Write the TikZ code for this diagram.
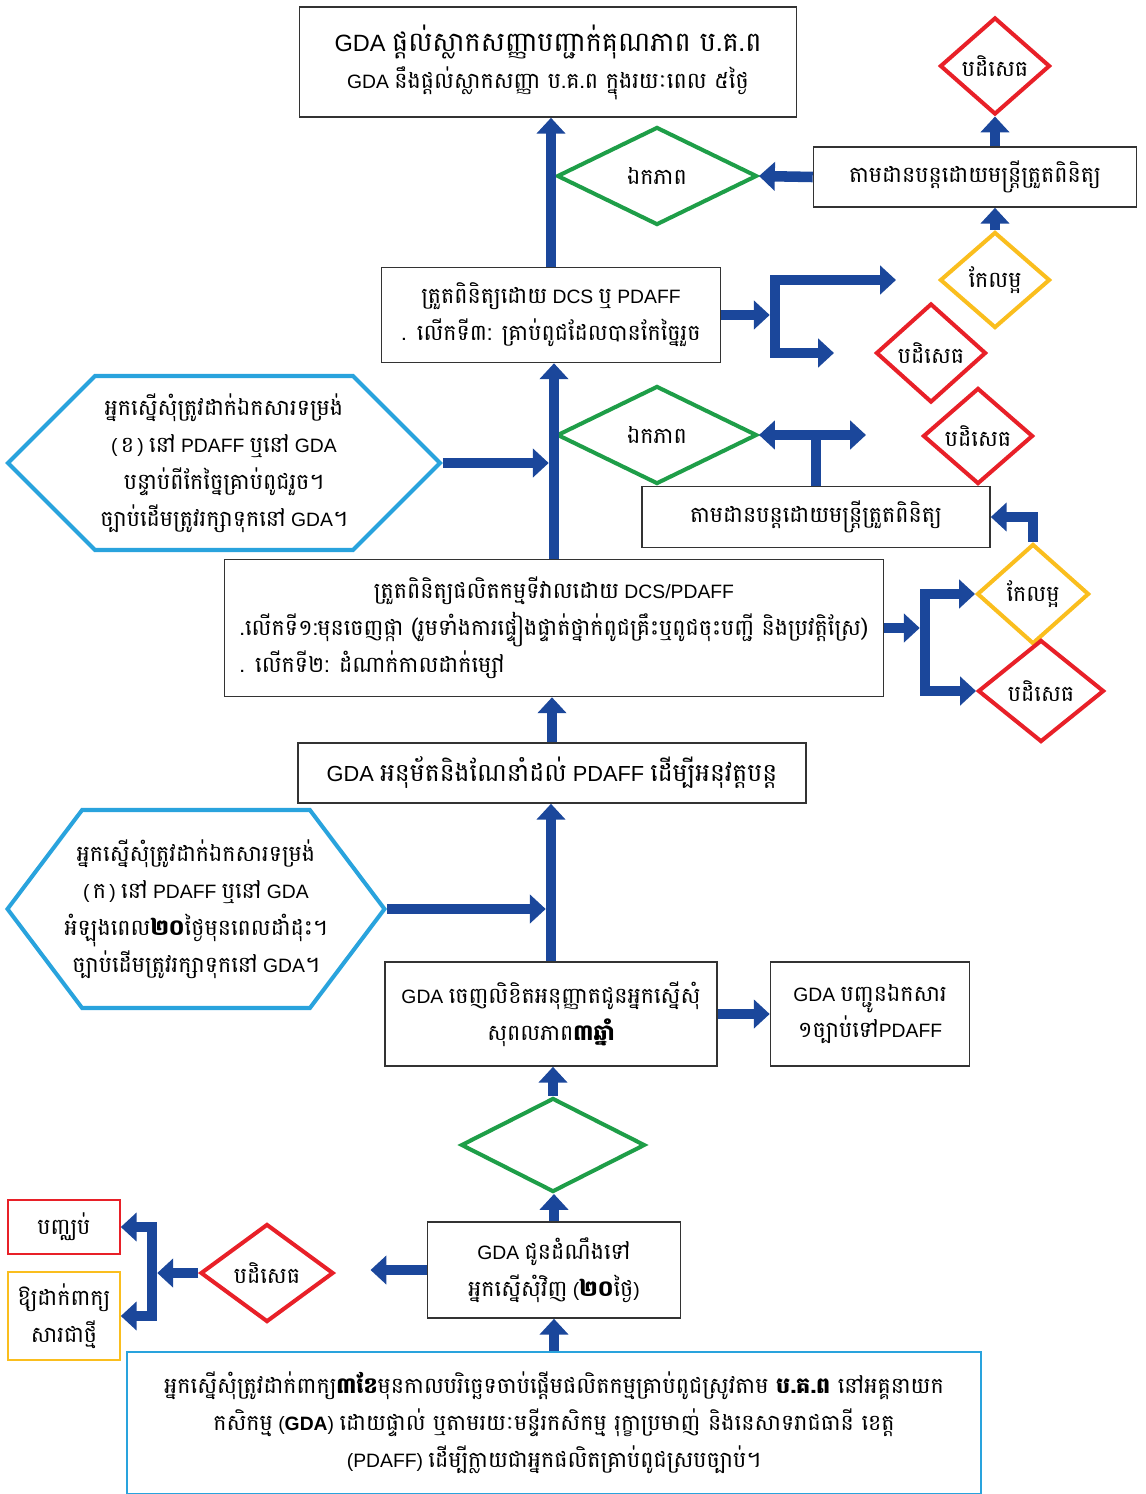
\documentclass[tikz,border=0pt]{standalone}
\usepackage{fontspec}
\setmainfont{Liberation Sans}
\newfontfamily\khfont[Script=Khmer, Scale=1.15]{Battambang}
\newcommand{\kh}[1]{{\khfont #1}}
\usetikzlibrary{arrows.meta,shapes.geometric,shapes.symbols}
\definecolor{flowblue}{RGB}{27,71,155}
\definecolor{okgreen}{RGB}{30,158,72}
\definecolor{nored}{RGB}{232,32,40}
\definecolor{fixyellow}{RGB}{250,190,30}
\definecolor{hexblue}{RGB}{41,163,221}
\tikzstyle{flowchart}=[%
	every node/.style={
		align=center, inner sep=2pt, font=\fontsize{11}{21}\selectfont
	}%
]
\tikzstyle{box}=[rectangle, draw=black!80, line width=0.9pt]
\tikzstyle{agree}=[diamond, draw=okgreen, line width=2.3pt, inner sep=0pt]
\tikzstyle{reject}=[diamond, draw=nored, line width=2.3pt, inner sep=0pt]
\tikzstyle{improve}=[diamond, draw=fixyellow, line width=2.3pt, inner sep=0pt]
\tikzstyle{hexa}=[signal, signal to=east and west, draw=hexblue, line width=2.3pt, inner sep=0pt]
\tikzstyle{flow}=[draw=flowblue, line width=6pt, line join=miter, -{Triangle[width=16pt,length=9pt]}]
\tikzstyle{dflow}=[flow, {Triangle[width=16pt,length=9pt]}-{Triangle[width=16pt,length=9pt]}]
\tikzstyle{bar}=[draw=flowblue, line width=6pt]

\begin{document}
\begin{tikzpicture}[x=0.2mm, y=-0.2mm, flowchart]
	\useasboundingbox (0,0) rectangle (1146,1494);

	\node[box, minimum width=99.4mm, minimum height=22mm] (cert) at (548,62)
		{{\fontsize{13.4}{24}\selectfont GDA \kh{ផ្តល់ស្លាកសញ្ញាបញ្ជាក់គុណភាព ប.គ.ព}}\\
		GDA \kh{នឹងផ្តល់ស្លាកសញ្ញា ប.គ.ព ក្នុងរយៈពេល ៥ថ្ងៃ}};
	\node[agree, minimum width=40mm, minimum height=19.6mm] (ok1) at (657,176) {\kh{ឯកភាព}};
	\node[box, minimum width=64.6mm, minimum height=12mm] (follow1) at (975,177) {\kh{តាមដានបន្តដោយមន្ត្រីត្រួតពិនិត្យ}};
	\node[reject, minimum width=22mm, minimum height=19.4mm] (rej1) at (995,66) {\kh{បដិសេធ}};
	\node[improve, minimum width=22mm, minimum height=19.2mm] (fix1) at (995,280) {\kh{កែលម្អ}};

	\node[box, minimum width=67.8mm, minimum height=19mm] (chk3) at (551,315)
		{\kh{ត្រួតពិនិត្យដោយ} DCS \kh{ឬ} PDAFF\\
		\kh{. លើកទី៣: គ្រាប់ពូជដែលបានកែច្នៃរួច}};
	\node[reject, minimum width=22mm, minimum height=19.8mm] (rej2) at (931,353) {\kh{បដិសេធ}};
	\node[agree, minimum width=40mm, minimum height=19.6mm] (ok2) at (657,435) {\kh{ឯកភាព}};
	\node[reject, minimum width=22mm, minimum height=19.2mm] (rej3) at (978,436) {\kh{បដិសេធ}};
	\node[box, minimum width=69.6mm, minimum height=12.2mm] (follow2) at (816,517) {\kh{តាមដានបន្តដោយមន្ត្រីត្រួតពិនិត្យ}};

	\node[hexa, signal pointer angle=90, minimum width=86.4mm, minimum height=34.8mm] (hexB) at (224,463)
		{\kh{អ្នកស្នើសុំត្រូវដាក់ឯកសារទម្រង់}\\
		(\,\kh{ខ}\,) \kh{នៅ} PDAFF \kh{ឬនៅ} GDA\\
		\kh{បន្ទាប់ពីកែច្នៃគ្រាប់ពូជរួច។}\\
		\kh{ច្បាប់ដើមត្រូវរក្សាទុកនៅ} GDA\kh{។}};

	\node[box, minimum width=131.8mm, minimum height=27.4mm] (field) at (554,628)
		{\begin{tabular}{@{}l@{}}
		\multicolumn{1}{@{}c@{}}{\kh{ត្រួតពិនិត្យផលិតកម្មទីវាលដោយ} DCS/PDAFF}\\
		\kh{.លើកទី១:មុនចេញផ្កា (រួមទាំងការផ្ទៀងផ្ទាត់ថ្នាក់ពូជគ្រឹះឬពូជចុះបញ្ជី និងប្រវត្តិស្រែ)}\\
		\kh{. លើកទី២: ដំណាក់កាលដាក់ម្សៅ}
		\end{tabular}};
	\node[improve, minimum width=22.4mm, minimum height=20mm] (fix2) at (1033,594) {\kh{កែលម្អ}};
	\node[reject, minimum width=25.2mm, minimum height=20.4mm] (rej4) at (1041,691) {\kh{បដិសេធ}};

	\node[box, minimum width=101.6mm, minimum height=12mm, font=\fontsize{12.4}{21}\selectfont] (approve) at (552,773)
		{GDA \kh{អនុម័តនិងណែនាំដល់} PDAFF \kh{ដើម្បីអនុវត្តបន្ត}};

	\node[hexa, signal pointer angle=106, inner xsep=-5mm, minimum width=75.4mm, minimum height=39.6mm] (hexA) at (196,909)
		{\kh{អ្នកស្នើសុំត្រូវដាក់ឯកសារទម្រង់}\\
		(\,\kh{ក}\,) \kh{នៅ} PDAFF \kh{ឬនៅ} GDA\\
		\kh{អំឡុងពេល\textbf{២០}ថ្ងៃមុនពេលដាំដុះ។}\\
		\kh{ច្បាប់ដើមត្រូវរក្សាទុកនៅ} GDA\kh{។}};

	\node[box, minimum width=66.4mm, minimum height=20.8mm] (permit) at (551,1014)
		{GDA \kh{ចេញលិខិតអនុញ្ញាតជូនអ្នកស្នើសុំ}\\
		\kh{សុពលភាព\textbf{៣ឆ្នាំ}}};
	\node[box, minimum width=39.8mm, minimum height=20.8mm] (send) at (870,1014)
		{GDA \kh{បញ្ជូនឯកសារ}\\
		\kh{១ច្បាប់ទៅ}PDAFF};
	\node[agree, minimum width=36.8mm, minimum height=18.8mm] (ok3) at (553,1145) {};

	\node[box, minimum width=50.6mm, minimum height=19.2mm] (notify) at (554,1270)
		{GDA \kh{ជូនដំណឹងទៅ}\\
		\kh{អ្នកស្នើសុំវិញ} (\kh{\textbf{២០}ថ្ងៃ})};
	\node[reject, minimum width=26.6mm, minimum height=19.6mm] (rej5) at (267,1273) {\kh{បដិសេធ}};
	\node[box, draw=nored, minimum width=22.4mm, minimum height=10.8mm] (stop) at (64,1227) {\kh{បញ្ឈប់}};
	\node[box, draw=fixyellow, minimum width=22.4mm, minimum height=17.6mm] (again) at (64,1316)
		{\kh{ឱ្យដាក់ពាក្យ}\\
		\kh{សារជាថ្មី}};

	\node[box, draw=hexblue, minimum width=170.8mm, minimum height=28.4mm] (apply) at (554,1423)
		{\kh{អ្នកស្នើសុំត្រូវដាក់ពាក្យ\textbf{៣ខែ}មុនកាលបរិច្ឆេទចាប់ផ្តើមផលិតកម្មគ្រាប់ពូជស្រូវតាម \textbf{ប.គ.ព} នៅអគ្គនាយក}\\
		\kh{កសិកម្ម} (\textbf{GDA}) \kh{ដោយផ្ទាល់ ឬតាមរយៈមន្ទីរកសិកម្ម រុក្ខាប្រមាញ់ និងនេសាទរាជធានី ខេត្ត}\\
		(PDAFF) \kh{ដើម្បីក្លាយជាអ្នកផលិតគ្រាប់ពូជស្របច្បាប់។}};

	\coordinate (fork2) at (775,315);
	\coordinate (fork3) at (925,628);
	\coordinate (fork5) at (152,1273);

	\draw[flow] (chk3.north) -- (chk3.north |- cert.south);
	\draw[flow] (follow1.west) -- (ok1.east);
	\draw[flow] (rej1.south |- follow1.north) -- (rej1.south);
	\draw[flow] (fix1.north) -- (fix1.north |- follow1.south);
	\draw[flow, shorten >=3pt] (chk3.east) -- (fork2);
	\draw[dflow, shorten <=8.4mm, shorten >=8mm] (fix1.west) -- (fix1.west -| fork2) -- (fork2 |- rej2.west) -- (rej2.west);

	\draw[dflow, shorten >=11mm] (ok2.east) -- (ok2.east -| rej3.west);
	\draw[bar] (follow2.north) -- (follow2.north |- ok2.east);
	\draw[flow] (fix2.north) |- (follow2.east);

	\draw[flow, shorten >=3pt] (hexB.east) -- (hexB.east -| field.north);
	\draw[flow] (field.north) -- (field.north |- chk3.south);
	\draw[flow, shorten >=3pt] (field.east) -- (fork3);
	\draw[dflow] (fix2.west) -- (fix2.west -| fork3) -- (fork3 |- rej4.west) -- (rej4.west);

	\draw[flow] (approve.north) -- (approve.north |- field.south);
	\draw[flow, shorten >=3pt] (hexA.east) -- (hexA.east -| permit.north);
	\draw[flow] (permit.north) -- (permit.north |- approve.south);
	\draw[flow] (permit.east) -- (send.west);
	\draw[flow] (ok3.north) -- (ok3.north |- permit.south);
	\draw[flow] (notify.north) -- (notify.north |- ok3.south);
	\draw[flow] (apply.north) -- (apply.north |- notify.south);

	\draw[flow, shorten >=7mm] (notify.west) -- (notify.west -| rej5.east);
	\draw[flow, shorten >=3pt] (rej5.west) -- (fork5);
	\draw[dflow] (stop.east) -- (stop.east -| fork5) -- (fork5 |- again.east) -- (again.east);
\end{tikzpicture}
\end{document}
